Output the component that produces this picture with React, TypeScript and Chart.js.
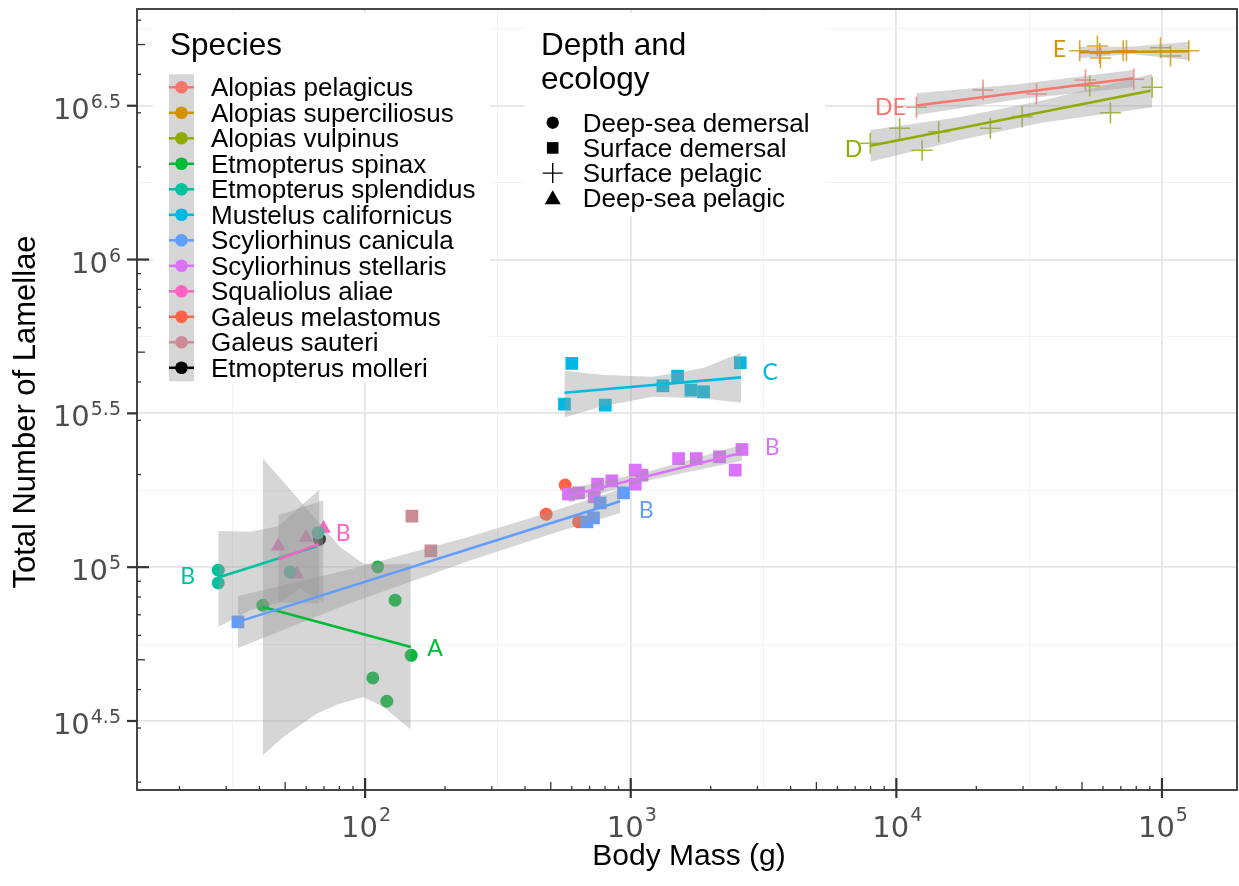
import React, { useEffect, useRef } from "react";
import { Chart, registerables } from "chart.js";

Chart.register(...registerables);

// ---------------- Species / ecology ----------------
const SPECIES = [
  "Alopias pelagicus",
  "Alopias superciliosus",
  "Alopias vulpinus",
  "Etmopterus spinax",
  "Etmopterus splendidus",
  "Mustelus californicus",
  "Scyliorhinus canicula",
  "Scyliorhinus stellaris",
  "Squaliolus aliae",
  "Galeus melastomus",
  "Galeus sauteri",
  "Etmopterus molleri",
];
const SPECIES_COLORS = [
  "#F8766D", "#D39200", "#93AA00", "#00BA38", "#00C19F", "#00B9E3",
  "#619CFF", "#DB72FB", "#FF61C3", "#FF6347", "#CD8C95", "#000000",
];
const ECOLOGY = ["Deep-sea demersal", "Surface demersal", "Surface pelagic", "Deep-sea pelagic"];
const ECOLOGY_SHAPES = ["circle", "rect", "cross", "triangle"];
const SPECIES_ECOLOGY = [2, 2, 2, 0, 0, 1, 1, 1, 3, 0, 1, 0];

// ---------------- Observations (body mass g, total lamellae) ----------------
const MASS_A_PELAGICUS = [11900, 21200, 33700, 51500, 78300];
const LAM_A_PELAGICUS = [3126000, 3558000, 3453000, 3834000, 3855000];
const MASS_A_SUPERCILIOSUS = [49000, 57150, 58310, 58680, 71450, 73500, 98700, 107700, 126200];
const LAM_A_SUPERCILIOSUS = [4775000, 4947000, 4677000, 4521000, 4775000, 4775000, 4880000, 4590000, 4775000];
const MASS_A_VULPINUS = [7980, 10290, 12500, 14430, 22590, 29750, 53460, 63970, 91830];
const LAM_A_VULPINUS = [2388000, 2672000, 2267000, 2604000, 2672000, 2914000, 3666000, 3002000, 3631000];
const MASS_E_SPINAX = [41.2, 111.6, 129.7, 149.1, 106.9, 120.7];
const LAM_E_SPINAX = [75200, 100200, 78100, 51700, 43650, 36660];
const MASS_E_SPLENDIDUS = [28.0, 28.0, 52.2, 66.4];
const LAM_E_SPLENDIDUS = [97800, 88900, 96500, 129300];
const MASS_M_CALIFORNICUS = [600, 563, 802, 1322, 1501, 1685, 1880, 2585];
const LAM_M_CALIFORNICUS = [459600, 338800, 336400, 388800, 417800, 376400, 371600, 461700];
const MASS_S_CANICULA = [33.2, 684, 724, 767, 939];
const LAM_S_CANICULA = [66400, 140400, 144600, 161700, 174400];
const MASS_S_STELLARIS = [583, 636, 750, 729, 849, 1040, 1103, 1040, 1514, 1765, 2160, 2623, 2475];
const LAM_S_STELLARIS = [172800, 174400, 186200, 169300, 190800, 206800, 199200, 186200, 225400, 225400, 228400, 241300, 206800];
const MASS_S_ALIAE = [47.1, 59.9, 55.3, 69.7];
const LAM_S_ALIAE = [117000, 124900, 94900, 133600];
const MASS_G_MELASTOMUS = [480.5, 566.6, 636];
const LAM_G_MELASTOMUS = [148700, 184800, 140400];
const MASS_G_SAUTERI = [150, 176.8];
const LAM_G_SAUTERI = [146500, 113000];
const MASS_E_MOLLERI = [67.3];
const LAM_E_MOLLERI = [123300];

const POINT_MASS = [
  MASS_A_PELAGICUS, MASS_A_SUPERCILIOSUS, MASS_A_VULPINUS, MASS_E_SPINAX, MASS_E_SPLENDIDUS,
  MASS_M_CALIFORNICUS, MASS_S_CANICULA, MASS_S_STELLARIS, MASS_S_ALIAE, MASS_G_MELASTOMUS,
  MASS_G_SAUTERI, MASS_E_MOLLERI,
];
const POINT_LAM = [
  LAM_A_PELAGICUS, LAM_A_SUPERCILIOSUS, LAM_A_VULPINUS, LAM_E_SPINAX, LAM_E_SPLENDIDUS,
  LAM_M_CALIFORNICUS, LAM_S_CANICULA, LAM_S_STELLARIS, LAM_S_ALIAE, LAM_G_MELASTOMUS,
  LAM_G_SAUTERI, LAM_E_MOLLERI,
];

// ---------------- Fitted lines (start/end) ----------------
const FIT_SPECIES = [0, 1, 2, 3, 4, 5, 6, 7, 8];
const FIT_MASS = [
  [11900, 77900], [49000, 126200], [7980, 90500], [41.2, 148.6], [28.0, 65.8],
  [563, 2601], [33.2, 913], [583, 2623], [47.1, 66.7],
];
const FIT_LAM = [
  [3168000, 3884000], [4718000, 4753000], [2345000, 3540000], [74270, 55050], [92570, 117000],
  [368800, 413900], [66400, 163900], [170600, 235300], [105900, 118800],
];

// ---------------- Confidence bands ----------------
const BAND_MASS = [
  [11900, 29300, 77900],
  [49000, 76100, 126200],
  [7980, 17420, 34860, 91860],
  [41.2, 49.2, 65.8, 80.5, 98.5, 117.2, 148.6],
  [28.0, 36.9, 47.1, 67.3],
  [563, 788, 1215, 1875, 2601],
  [33.2, 87.8, 248.6, 497.6, 912.9],
  [583, 1184, 2623],
  [47.1, 56.9, 69.7],
];
const BAND_UPPER = [
  [3472000, 3722000, 4133000],
  [4920000, 4920000, 5109000],
  [2637000, 2906000, 3277000, 4012000],
  [225700, 189400, 142200, 116400, 102800, 102300, 102800],
  [131200, 130300, 135900, 178900],
  [434900, 421100, 415800, 443800, 497800],
  [80660, 98360, 125800, 151000, 179300],
  [179700, 205400, 249900],
  [147600, 155600, 165100],
];
const BAND_LOWER = [
  [2951000, 3327000, 3631000],
  [4511000, 4659000, 4455000],
  [2080000, 2447000, 2779000, 3126000],
  [24470, 28060, 33440, 36040, 37860, 35130, 29670],
  [63950, 72480, 76550, 76200],
  [306800, 334000, 357900, 353600, 342100],
  [54630, 76260, 105100, 128000, 149900],
  [161900, 192000, 221700],
  [76370, 85460, 76370],
];

// ---------------- Group labels ----------------
const GROUP_LABELS = ["E", "DE", "D", "C", "B", "B", "B", "B", "A"];
const GROUP_LABEL_SPECIES = [1, 0, 2, 5, 7, 6, 8, 4, 3];
const GROUP_LABEL_MASS = [41100, 9490, 6890, 3350, 3410, 1143, 82.6, 21.5, 183.5];
const GROUP_LABEL_LAM = [4800000, 3130000, 2270000, 430600, 245500, 153200, 129000, 93500, 54500];

// ---------------- Axes ----------------
const X_MIN_EXP = 1.1412;
const X_MAX_EXP = 5.2825;
const Y_MIN_EXP = 4.2756;
const Y_MAX_EXP = 6.8145;
const X_GRID_EXP = [1.5, 2, 2.5, 3, 3.5, 4, 4.5, 5];
const Y_GRID_EXP = [4.5, 4.75, 5, 5.25, 5.5, 5.75, 6, 6.25, 6.5, 6.75];
const X_LABEL_EXP = ["2", "3", "4", "5"];
const Y_LABEL_EXP = ["4.5", "5", "5.5", "6", "6.5"];
const LOG_DECADES_X = [1, 2, 3, 4, 5];
const LOG_DECADES_Y = [4, 5, 6];
const LOG_MULTS = [1, 2, 3, 4, 5, 6, 7, 8, 9];

const X_TITLE = "Body Mass (g)";
const Y_TITLE = "Total Number of Lamellae";
const SPECIES_TITLE = "Species";
const ECOLOGY_TITLE = ["Depth and", "ecology"];

const SANS = '"Liberation Sans", Arial, Helvetica, sans-serif';
const TICK_FONT = '"DejaVu Sans", "Liberation Sans", sans-serif';
const BAND_FILL = "rgba(153,153,153,0.4)";

function withAlpha(hex: string, a: number) {
  const r = parseInt(hex.slice(1, 3), 16);
  const g = parseInt(hex.slice(3, 5), 16);
  const b = parseInt(hex.slice(5, 7), 16);
  return `rgba(${r},${g},${b},${a})`;
}

function drawShape(ctx: any, shape: string, x: number, y: number, color: string) {
  ctx.fillStyle = color;
  ctx.strokeStyle = color;
  if (shape === "circle") {
    ctx.beginPath();
    ctx.arc(x, y, 6.2, 0, Math.PI * 2);
    ctx.fill();
  } else if (shape === "rect") {
    ctx.fillRect(x - 5.8, y - 5.8, 11.6, 11.6);
  } else if (shape === "cross") {
    ctx.lineWidth = 1.4;
    ctx.beginPath();
    ctx.moveTo(x - 10, y);
    ctx.lineTo(x + 10, y);
    ctx.moveTo(x, y - 10);
    ctx.lineTo(x, y + 10);
    ctx.stroke();
  } else {
    ctx.beginPath();
    ctx.moveTo(x, y - 8);
    ctx.lineTo(x + 8, y + 6);
    ctx.lineTo(x - 8, y + 6);
    ctx.closePath();
    ctx.fill();
  }
}

function drawPow(ctx: any, exp: string, x: number, baseY: number, expY: number, align: string) {
  ctx.font = `29px ${TICK_FONT}`;
  const wb = ctx.measureText("10").width;
  ctx.font = `19px ${TICK_FONT}`;
  const we = ctx.measureText(exp).width;
  const total = wb + 1 + we;
  const left = align === "right" ? x - total : x - total / 2;
  ctx.textAlign = "left";
  ctx.textBaseline = "alphabetic";
  ctx.font = `29px ${TICK_FONT}`;
  ctx.fillText("10", left, baseY);
  ctx.font = `19px ${TICK_FONT}`;
  ctx.fillText(exp, left + wb + 1, expY);
}

const decorPlugin = {
  id: "decor",
  afterDatasetsDraw(chart: any) {
    const ctx = chart.ctx;
    const xs = chart.scales.x;
    const ys = chart.scales.y;
    ctx.save();
    ctx.font = `23px Lato, "Open Sans", sans-serif`;
    ctx.textAlign = "center";
    ctx.textBaseline = "middle";
    GROUP_LABELS.forEach((t, i) => {
      ctx.fillStyle = SPECIES_COLORS[GROUP_LABEL_SPECIES[i]];
      ctx.fillText(t, xs.getPixelForValue(GROUP_LABEL_MASS[i]), ys.getPixelForValue(GROUP_LABEL_LAM[i]));
    });
    ctx.restore();
  },
  afterDraw(chart: any) {
    const ctx = chart.ctx;
    const xs = chart.scales.x;
    const ys = chart.scales.y;
    const a = chart.chartArea;
    ctx.save();

    // ---- legend: species ----
    ctx.fillStyle = "#ffffff";
    ctx.fillRect(153, 13, 337, 370);
    ctx.fillStyle = "#000";
    ctx.textAlign = "left";
    ctx.textBaseline = "alphabetic";
    ctx.font = `31.5px ${SANS}`;
    ctx.fillText(SPECIES_TITLE, 170, 55);
    const rowH = 25.5;
    const row0 = 87.3;
    ctx.fillStyle = "#d6d6d6";
    ctx.fillRect(169, row0 - 13, 25, rowH * SPECIES.length + 1);
    SPECIES.forEach((s, i) => {
      const y = row0 + i * rowH;
      ctx.strokeStyle = SPECIES_COLORS[i];
      ctx.lineWidth = 2.5;
      ctx.beginPath();
      ctx.moveTo(169, y);
      ctx.lineTo(194, y);
      ctx.stroke();
      ctx.fillStyle = SPECIES_COLORS[i];
      ctx.beginPath();
      ctx.arc(181.5, y, 6.3, 0, Math.PI * 2);
      ctx.fill();
      ctx.fillStyle = "#000";
      ctx.font = `26px ${SANS}`;
      ctx.fillText(s, 211, y + 9);
    });

    // ---- legend: depth and ecology ----
    ctx.fillStyle = "#ffffff";
    ctx.fillRect(525, 13, 300, 203);
    ctx.fillStyle = "#000";
    ctx.font = `31.5px ${SANS}`;
    ctx.fillText(ECOLOGY_TITLE[0], 541, 55);
    ctx.fillText(ECOLOGY_TITLE[1], 541, 89);
    ECOLOGY.forEach((e, i) => {
      const y = 122.7 + i * 25.2;
      drawShape(ctx, ECOLOGY_SHAPES[i], 552.7, y, "#000");
      ctx.fillStyle = "#000";
      ctx.font = `26px ${SANS}`;
      ctx.fillText(e, 582.7, y + 9);
    });

    // ---- panel border ----
    ctx.strokeStyle = "#333333";
    ctx.lineWidth = 1.8;
    ctx.strokeRect(a.left, a.top, a.right - a.left, a.bottom - a.top);

    // ---- log ticks (inside) ----
    ctx.strokeStyle = "#333333";
    LOG_DECADES_X.forEach((d) => {
      LOG_MULTS.forEach((m) => {
        const v = m * Math.pow(10, d);
        const px = xs.getPixelForValue(v);
        if (px < a.left + 1 || px > a.right - 1) return;
        const len = m === 1 ? 12 : m === 5 ? 8 : 4;
        ctx.lineWidth = m === 1 ? 2.2 : 1.3;
        ctx.beginPath();
        ctx.moveTo(px, a.bottom);
        ctx.lineTo(px, a.bottom - len);
        ctx.stroke();
      });
    });
    LOG_DECADES_Y.forEach((d) => {
      LOG_MULTS.forEach((m) => {
        const v = m * Math.pow(10, d);
        const py = ys.getPixelForValue(v);
        if (py < a.top + 1 || py > a.bottom - 1) return;
        const len = m === 1 ? 12 : m === 5 ? 8 : 4;
        ctx.lineWidth = m === 1 ? 2.2 : 1.3;
        ctx.beginPath();
        ctx.moveTo(a.left, py);
        ctx.lineTo(a.left + len, py);
        ctx.stroke();
      });
    });

    // ---- axis ticks (outside) and labels ----
    X_LABEL_EXP.forEach((e) => {
      const px = xs.getPixelForValue(Math.pow(10, parseFloat(e)));
      ctx.strokeStyle = "#333333";
      ctx.lineWidth = 2.2;
      ctx.beginPath();
      ctx.moveTo(px, a.bottom);
      ctx.lineTo(px, a.bottom + 8);
      ctx.stroke();
      ctx.fillStyle = "#4d4d4d";
      drawPow(ctx, e, px + 1, 837, 821, "center");
    });
    Y_LABEL_EXP.forEach((e) => {
      const py = ys.getPixelForValue(Math.pow(10, parseFloat(e)));
      ctx.strokeStyle = "#333333";
      ctx.lineWidth = 2.2;
      ctx.beginPath();
      ctx.moveTo(a.left, py);
      ctx.lineTo(a.left - 10, py);
      ctx.stroke();
      ctx.fillStyle = "#4d4d4d";
      drawPow(ctx, e, 121, py + 13, py + 2, "right");
    });

    // ---- axis titles ----
    ctx.fillStyle = "#000";
    ctx.font = `30px ${SANS}`;
    ctx.textAlign = "center";
    ctx.textBaseline = "alphabetic";
    ctx.fillText(X_TITLE, 689, 865);
    ctx.save();
    ctx.translate(35, 412);
    ctx.rotate(-Math.PI / 2);
    ctx.font = `31px ${SANS}`;
    ctx.fillText(Y_TITLE, 0, 0);
    ctx.restore();

    ctx.restore();
  },
};

function buildDatasets() {
  const ds: any[] = [];
  // fitted lines (on top)
  FIT_SPECIES.forEach((s, k) => {
    ds.push({
      data: FIT_MASS[k].map((x, i) => ({ x, y: FIT_LAM[k][i] })),
      borderColor: SPECIES_COLORS[s],
      backgroundColor: SPECIES_COLORS[s],
      borderWidth: 2.6,
      pointRadius: 0,
      showLine: true,
      fill: false,
      tension: 0,
      order: 1 - k * 0.01,
    });
  });
  // confidence bands
  FIT_SPECIES.forEach((s, k) => {
    ds.push({
      data: BAND_MASS[k].map((x, i) => ({ x, y: BAND_UPPER[k][i] })),
      borderColor: "rgba(0,0,0,0)",
      borderWidth: 0,
      backgroundColor: BAND_FILL,
      pointRadius: 0,
      showLine: true,
      fill: "+1",
      tension: 0,
      order: 2,
    });
    ds.push({
      data: BAND_MASS[k].map((x, i) => ({ x, y: BAND_LOWER[k][i] })),
      borderColor: "rgba(0,0,0,0)",
      borderWidth: 0,
      backgroundColor: BAND_FILL,
      pointRadius: 0,
      showLine: true,
      fill: false,
      tension: 0,
      order: 2,
    });
  });
  // observations (bottom)
  SPECIES.forEach((sp, s) => {
    const shape = ECOLOGY_SHAPES[SPECIES_ECOLOGY[s]];
    const isCross = shape === "cross";
    ds.push({
      label: sp,
      data: POINT_MASS[s].map((x, i) => ({ x, y: POINT_LAM[s][i] })),
      showLine: false,
      pointStyle: shape,
      pointRadius: shape === "circle" ? 6.5 : shape === "rect" ? 9 : shape === "triangle" ? 8.5 : 10.5,
      backgroundColor: SPECIES_COLORS[s],
      borderColor: isCross ? withAlpha(SPECIES_COLORS[s], 0.8) : SPECIES_COLORS[s],
      borderWidth: isCross ? 1.6 : 0,
      order: 3,
    });
  });
  return ds;
}

export default function App() {
  const ref = useRef<HTMLCanvasElement>(null);
  useEffect(() => {
    document.body.style.margin = "0";
    document.body.style.overflow = "hidden";
    const chart = new Chart(ref.current as HTMLCanvasElement, {
      type: "line",
      data: { datasets: buildDatasets() },
      options: {
        animation: false,
        responsive: false,
        devicePixelRatio: 1,
        layout: { autoPadding: false, padding: { top: 9, right: 2, left: 0, bottom: 0 } },
        plugins: { legend: { display: false }, tooltip: { enabled: false } },
        elements: { line: { tension: 0 } },
        scales: {
          x: {
            type: "logarithmic",
            min: Math.pow(10, X_MIN_EXP),
            max: Math.pow(10, X_MAX_EXP),
            bounds: "data",
            afterBuildTicks: (s: any) => {
              s.ticks = X_GRID_EXP.map((e) => ({ value: Math.pow(10, e) }));
            },
            afterFit: (s: any) => {
              s.height = 96;
            },
            ticks: { display: false },
            border: { display: false },
            grid: {
              drawTicks: false,
              color: (c: any) => (Number.isInteger(X_GRID_EXP[c.index]) ? "#e5e5e5" : "#f2f2f2"),
              lineWidth: (c: any) => (Number.isInteger(X_GRID_EXP[c.index]) ? 1.8 : 1),
            },
          },
          y: {
            type: "logarithmic",
            min: Math.pow(10, Y_MIN_EXP),
            max: Math.pow(10, Y_MAX_EXP),
            bounds: "data",
            afterBuildTicks: (s: any) => {
              s.ticks = Y_GRID_EXP.map((e) => ({ value: Math.pow(10, e) }));
            },
            afterFit: (s: any) => {
              s.width = 137;
            },
            ticks: { display: false },
            border: { display: false },
            grid: {
              drawTicks: false,
              color: (c: any) => ((Y_GRID_EXP[c.index] * 2) % 1 === 0 ? "#e5e5e5" : "#f2f2f2"),
              lineWidth: (c: any) => ((Y_GRID_EXP[c.index] * 2) % 1 === 0 ? 1.8 : 1),
            },
          },
        },
      } as any,
      plugins: [decorPlugin],
    } as any);
    return () => chart.destroy();
  }, []);
  return (
    <div style={{ width: 1239, height: 886, background: "#ffffff" }}>
      <canvas ref={ref} width={1239} height={886} style={{ display: "block" }} />
    </div>
  );
}
